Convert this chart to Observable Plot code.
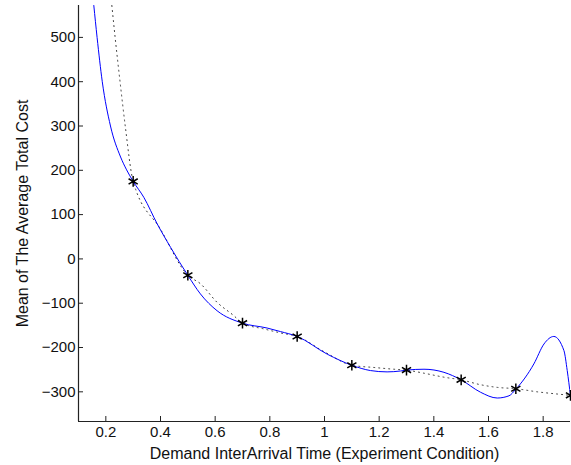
<!DOCTYPE html>
<html>
<head>
<meta charset="utf-8">
<script src="https://cdn.jsdelivr.net/npm/d3@7"></script>
<script src="https://cdn.jsdelivr.net/npm/@observablehq/plot@0.6"></script>
<style>
  html, body { margin: 0; padding: 0; background: #fff; }
</style>
</head>
<body>
<div id="chart"></div>
<script>
// Experiment conditions (stars)
const condX = [0.3, 0.5, 0.7, 0.9, 1.1, 1.3, 1.5, 1.7, 1.9];
const condY = [175, -37, -145, -175, -240, -251, -273, -293, -308];

// Blue smooth curve
const blueX = [0.156, 0.168, 0.187, 0.217, 0.254, 0.276, 0.3, 0.339, 0.388, 0.437, 0.5, 0.546, 0.607, 0.7, 0.79, 0.839, 0.9, 1.01, 1.1, 1.168, 1.229, 1.278, 1.3, 1.364, 1.437, 1.5, 1.571, 1.632, 1.675, 1.7, 1.766, 1.803, 1.839, 1.876, 1.888, 1.9];
const blueY = [572, 500, 400, 300, 230, 201, 175, 139, 79, 26, -37, -79, -117, -145, -156, -164, -175, -215, -240, -252, -255, -253, -251, -249, -256, -273, -301, -314, -309, -294, -237, -192, -175, -207, -252, -309];

// Dotted fitted curve
const dotX = [0.222, 0.234, 0.252, 0.271, 0.3, 0.4, 0.5, 0.546, 0.607, 0.668, 0.7, 0.778, 0.839, 0.9, 1.0, 1.1, 1.18, 1.254, 1.3, 1.364, 1.437, 1.5, 1.571, 1.632, 1.7, 1.778, 1.852, 1.9];
const dotY = [572, 500, 400, 300, 175, 67, -37, -56, -98, -128, -145, -158, -167, -175, -210, -240, -245, -249, -251, -258, -267, -273, -284, -290, -293, -300, -305, -308];

const xDomain = [0.1, 1.9];
const yDomain = [-367, 572];
const xTicks = [0.2, 0.4, 0.6, 0.8, 1, 1.2, 1.4, 1.6, 1.8];
const yTicks = [-300, -200, -100, 0, 100, 200, 300, 400, 500];

const xLabel = "Demand InterArrival Time (Experiment Condition)";
const yLabel = "Mean of The Average Total Cost";

const stars = condX.map((x, i) => ({x, y: condY[i]}));
const blue = blueX.map((x, i) => ({x, y: blueY[i]}));
const dots = dotX.map((x, i) => ({x, y: dotY[i]}));

const fmtY = d => d < 0 ? "\u2212" + Math.abs(d) : String(d);
const axisColor = "#222";

const chart = Plot.plot({
  width: 571,
  height: 465,
  marginLeft: 78,
  marginRight: 1,
  marginTop: 5,
  marginBottom: 44,
  style: {fontFamily: "'Liberation Sans', Helvetica, Arial, sans-serif", fontSize: "15px", background: "#fff", color: "#111"},
  x: {domain: xDomain},
  y: {domain: yDomain},
  marks: [
    Plot.line(dots, {x: "x", y: "y", curve: "monotone-x", stroke: "#333", strokeWidth: 1, strokeDasharray: "1,4", clip: true}),
    Plot.line(blue, {x: "x", y: "y", curve: "monotone-x", stroke: "#0000ff", strokeWidth: 1, clip: true}),
    Plot.dot(stars, {x: "x", y: "y", symbol: "asterisk", r: 5, stroke: "#000", strokeWidth: 1.5}),
    // axis lines
    Plot.ruleX([xDomain[0]], {stroke: axisColor, strokeWidth: 1.2}),
    Plot.ruleY([yDomain[0]], {stroke: axisColor, strokeWidth: 1.2}),
    // inward tick marks (outward ticks shifted inside)
    Plot.axisX({ticks: xTicks, tickSize: 5, dy: -5, tickFormat: () => "", label: null, stroke: axisColor}),
    Plot.axisY({ticks: yTicks, tickSize: 5, dx: 5, tickFormat: () => "", label: null, stroke: axisColor}),
    // tick labels
    Plot.axisX({ticks: xTicks, tickFormat: d => String(d), tickSize: 0, tickPadding: 5, label: null, fontSize: 15}),
    Plot.axisY({ticks: yTicks, tickFormat: fmtY, tickSize: 0, tickPadding: 3, label: null, fontSize: 15}),
    // axis titles
    Plot.text([xLabel], {text: d => d, frameAnchor: "bottom", lineAnchor: "middle", dy: 32, fontSize: 16, fill: "#111"}),
    Plot.text([yLabel], {text: d => d, frameAnchor: "left", textAnchor: "middle", lineAnchor: "middle", rotate: -90, dx: -56, fontSize: 16, fill: "#111"})
  ]
});
document.getElementById("chart").appendChild(chart);
</script>
</body>
</html>
